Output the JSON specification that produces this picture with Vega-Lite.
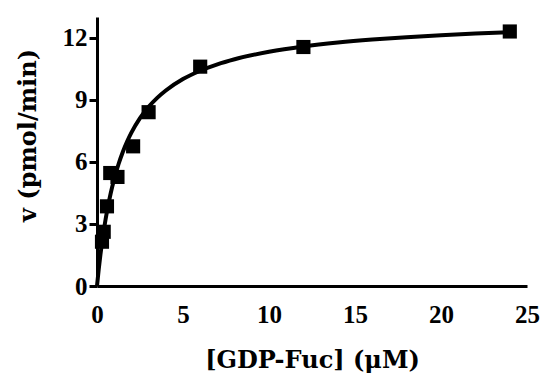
{
  "$schema": "https://vega.github.io/schema/vega-lite/v6.json",
  "width": 430,
  "height": 269,
  "autosize": "none",
  "padding": {"left": 97, "top": 17, "right": 16, "bottom": 90},
  "config": {"view": {"stroke": null}, "font": "Liberation Serif"},
  "datasets": {
    "fit": [
      {"x": 0, "v": 0}, {"x": 0.1, "v": 0.805}, {"x": 0.2, "v": 1.516}, {"x": 0.3, "v": 2.149},
      {"x": 0.4, "v": 2.717}, {"x": 0.5, "v": 3.228}, {"x": 0.6, "v": 3.691}, {"x": 0.8, "v": 4.497},
      {"x": 1.0, "v": 5.175}, {"x": 1.25, "v": 5.884}, {"x": 1.5, "v": 6.477}, {"x": 1.75, "v": 6.979},
      {"x": 2, "v": 7.409}, {"x": 2.5, "v": 8.109}, {"x": 3, "v": 8.655}, {"x": 3.5, "v": 9.092},
      {"x": 4, "v": 9.449}, {"x": 5, "v": 10.0}, {"x": 6, "v": 10.404}, {"x": 7, "v": 10.714},
      {"x": 8, "v": 10.958}, {"x": 10, "v": 11.319}, {"x": 12, "v": 11.574}, {"x": 14, "v": 11.763},
      {"x": 16, "v": 11.909}, {"x": 18, "v": 12.025}, {"x": 20, "v": 12.119}, {"x": 22, "v": 12.197},
      {"x": 24, "v": 12.263}
    ],
    "pts": [
      {"x": 0.29, "v": 2.14}, {"x": 0.39, "v": 2.62}, {"x": 0.58, "v": 3.85}, {"x": 0.77, "v": 5.46},
      {"x": 1.19, "v": 5.27}, {"x": 2.1, "v": 6.75}, {"x": 3.0, "v": 8.4}, {"x": 6.0, "v": 10.6},
      {"x": 12.0, "v": 11.55}, {"x": 24.0, "v": 12.3}
    ],
    "minor": [
      {"x": 0}, {"x": 1}, {"x": 2}, {"x": 3}, {"x": 4}, {"x": 5}, {"x": 6}, {"x": 7}, {"x": 8},
      {"x": 9}, {"x": 10}, {"x": 11}, {"x": 12}, {"x": 13}, {"x": 14}, {"x": 15}, {"x": 16},
      {"x": 17}, {"x": 18}, {"x": 19}, {"x": 20}, {"x": 21}, {"x": 22}, {"x": 23}, {"x": 24}, {"x": 25}
    ],
    "major": [
      {"x": 0}, {"x": 5}, {"x": 10}, {"x": 15}, {"x": 20}, {"x": 25}
    ]
  },
  "encoding": {
    "x": {
      "field": "x", "type": "quantitative",
      "scale": {"domain": [0, 25], "nice": false},
      "axis": {
        "orient": "bottom", "values": [0, 5, 10, 15, 20, 25],
        "grid": false, "ticks": false, "labelFlush": false, "labelOverlap": false, "labelBound": false,
        "domainColor": "black", "domainWidth": 3,
        "labelFontSize": 25, "labelFontWeight": "bold", "labelColor": "black", "labelPadding": 16,
        "title": "[GDP-Fuc] (μM)", "titleFont": "DejaVu Serif", "titleFontSize": 24, "titleFontWeight": "bold", "titleColor": "black", "titlePadding": 21
      }
    },
    "y": {
      "field": "v", "type": "quantitative",
      "scale": {"domain": [0, 13], "nice": false},
      "axis": {
        "values": [0, 3, 6, 9, 12], "grid": false, "labelFlush": false,
        "domainColor": "black", "domainWidth": 3, "tickColor": "black", "tickWidth": 3, "tickSize": 8,
        "labelFontSize": 25, "labelFontWeight": "bold", "labelColor": "black", "labelPadding": 2,
        "title": "v (pmol/min)", "titleFont": "DejaVu Serif", "titleFontSize": 24, "titleFontWeight": "bold", "titleColor": "black", "titlePadding": 22, "titleY": 118
      }
    }
  },
  "layer": [
    {
      "data": {"name": "minor"},
      "mark": {"type": "tick", "orient": "vertical", "color": "black", "opacity": 1, "size": 6, "thickness": 3, "clip": false},
      "encoding": {"y": {"datum": -0.145}}
    },
    {
      "data": {"name": "major"},
      "mark": {"type": "tick", "orient": "vertical", "color": "black", "opacity": 1, "size": 11, "thickness": 3, "clip": false},
      "encoding": {"y": {"datum": -0.265}}
    },
    {
      "data": {"name": "fit"},
      "mark": {"type": "line", "color": "black", "strokeWidth": 4, "interpolate": "monotone"}
    },
    {
      "data": {"name": "pts"},
      "mark": {"type": "square", "size": 200, "filled": true, "color": "black", "opacity": 1}
    }
  ]
}
